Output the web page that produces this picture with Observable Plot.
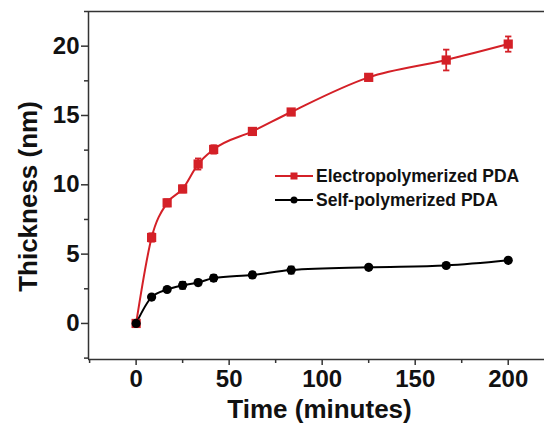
<!DOCTYPE html>
<html><head><meta charset="utf-8">
<script src="https://cdn.jsdelivr.net/npm/d3@7"></script>
<script src="https://cdn.jsdelivr.net/npm/@observablehq/plot@0.6"></script>
<style>
body{margin:0;background:#fff}
#wrap{position:relative;width:544px;height:423px;font-family:"Liberation Sans",Arial,sans-serif}
#legend{position:absolute;left:0;top:0;pointer-events:none}
</style>
</head><body><div id="wrap"></div>
<script>
const times = [0, 8.33, 16.67, 25, 33.33, 41.67, 62.5, 83.33, 125, 166.67, 200];
const electro = [0, 6.2, 8.7, 9.7, 11.5, 12.55, 13.85, 15.25, 17.75, 19.0, 20.15];
const electroErr = [0, 0.3, 0.25, 0.25, 0.4, 0.3, 0.2, 0.2, 0.2, 0.75, 0.55];
const selfPoly = [0, 1.9, 2.45, 2.75, 2.95, 3.27, 3.5, 3.85, 4.05, 4.18, 4.55];
const selfErr = [0, 0.12, 0.12, 0.25, 0.2, 0.22, 0.2, 0.25, 0.12, 0.12, 0.12];
const seriesNames = ["Electropolymerized PDA", "Self-polymerized PDA"];
const seriesColors = ["#d42027", "#000000"];
const seriesSymbols = ["square", "circle"];
const xTicks = [0, 50, 100, 150, 200];
const xMinor = [-25, 25, 75, 125, 175];
const yTicks = [0, 5, 10, 15, 20];
const yMinor = [-2.5, 2.5, 7.5, 12.5, 17.5, 22.5];
const xDomain = [-25.6, 219.5];
const yDomain = [-2.6, 22.5];
const xTitle = "Time (minutes)";
const yTitle = "Thickness (nm)";

const seriesVals = [electro, selfPoly];
const seriesErrs = [electroErr, selfErr];
const rows = [];
seriesNames.forEach((s, i) => times.forEach((t, j) => rows.push({series: s, t, v: seriesVals[i][j], e: seriesErrs[i][j]})));
const withErr = rows.filter(d => d.e > 0);
const capHalf = 1.7;
const axisColor = "#333";
const font = '"Liberation Sans", Arial, sans-serif';

const chart = Plot.plot({
  width: 544, height: 423,
  marginLeft: 88, marginTop: 11, marginBottom: 64, marginRight: 0,
  style: {fontFamily: font, background: "#fff", overflow: "visible"},
  x: {domain: xDomain},
  y: {domain: yDomain},
  color: {domain: seriesNames, range: seriesColors},
  symbol: {domain: seriesNames, range: seriesSymbols},
  marks: [
    Plot.ruleX([xDomain[0]], {stroke: axisColor, strokeWidth: 1.5}),
    Plot.ruleY([yDomain[0], yDomain[1]], {stroke: axisColor, strokeWidth: 1.5}),
    Plot.axisX(xTicks, {tickSize: 6, tickPadding: 4, fontSize: 24, fontWeight: "bold", stroke: axisColor, strokeWidth: 1.5, color: "#111", label: null}),
    Plot.axisX(xMinor, {tickSize: 4, text: null, stroke: axisColor, strokeWidth: 1.5, label: null}),
    Plot.axisY(yTicks, {tickSize: 7, tickPadding: 2, fontSize: 24, fontWeight: "bold", stroke: axisColor, strokeWidth: 1.5, color: "#111", label: null}),
    Plot.axisY(yMinor, {tickSize: 4, text: null, stroke: axisColor, strokeWidth: 1.5, label: null}),
    Plot.text([xTitle], {frameAnchor: "bottom", dy: 58, dx: 3, textAnchor: "middle", lineAnchor: "bottom", fontSize: 26, fontWeight: "bold", fill: "#111"}),
    Plot.text([yTitle], {frameAnchor: "left", dx: -60, dy: 11, textAnchor: "middle", lineAnchor: "middle", rotate: -90, fontSize: 26, fontWeight: "bold", fill: "#111"}),
    Plot.line(rows, {x: "t", y: "v", z: "series", stroke: "series", strokeWidth: 2, curve: "monotone-x"}),
    Plot.ruleX(withErr, {x: "t", y1: d => d.v - d.e, y2: d => d.v + d.e, stroke: "series", strokeWidth: 1.8}),
    Plot.link(withErr, {x1: d => d.t - capHalf, x2: d => d.t + capHalf, y1: d => d.v - d.e, y2: d => d.v - d.e, stroke: "series", strokeWidth: 1.8}),
    Plot.link(withErr, {x1: d => d.t - capHalf, x2: d => d.t + capHalf, y1: d => d.v + d.e, y2: d => d.v + d.e, stroke: "series", strokeWidth: 1.8}),
    Plot.dot(rows.filter(d => d.series === seriesNames[0]), {x: "t", y: "v", symbol: "series", fill: "series", r: 5.2}),
    Plot.dot(rows.filter(d => d.series === seriesNames[1]), {x: "t", y: "v", symbol: "series", fill: "series", r: 4.6})
  ]
});
const wrap = document.getElementById("wrap");
wrap.appendChild(chart);

// legend overlay
const ns = "http://www.w3.org/2000/svg";
const leg = document.createElementNS(ns, "svg");
leg.setAttribute("id", "legend");
leg.setAttribute("width", 544); leg.setAttribute("height", 423);
const lx0 = 275, lx1 = 313, ly0 = 176, lstep = 24;
seriesNames.forEach((name, i) => {
  const y = ly0 + i * lstep;
  const line = document.createElementNS(ns, "line");
  line.setAttribute("x1", lx0); line.setAttribute("x2", lx1);
  line.setAttribute("y1", y); line.setAttribute("y2", y);
  line.setAttribute("stroke", seriesColors[i]); line.setAttribute("stroke-width", 2);
  leg.appendChild(line);
  const mx = (lx0 + lx1) / 2;
  let m;
  if (seriesSymbols[i] === "square") {
    m = document.createElementNS(ns, "rect");
    m.setAttribute("x", mx - 3.5); m.setAttribute("y", y - 3.5);
    m.setAttribute("width", 7); m.setAttribute("height", 7);
  } else {
    m = document.createElementNS(ns, "circle");
    m.setAttribute("cx", mx); m.setAttribute("cy", y); m.setAttribute("r", 3.5);
  }
  m.setAttribute("fill", seriesColors[i]);
  leg.appendChild(m);
  const tx = document.createElementNS(ns, "text");
  tx.setAttribute("x", lx1 + 3); tx.setAttribute("y", y + 6);
  tx.setAttribute("font-size", 17.5); tx.setAttribute("font-weight", "bold");
  tx.setAttribute("font-family", font); tx.setAttribute("fill", "#111");
  tx.textContent = name;
  leg.appendChild(tx);
});
wrap.appendChild(leg);
</script>
</body></html>
